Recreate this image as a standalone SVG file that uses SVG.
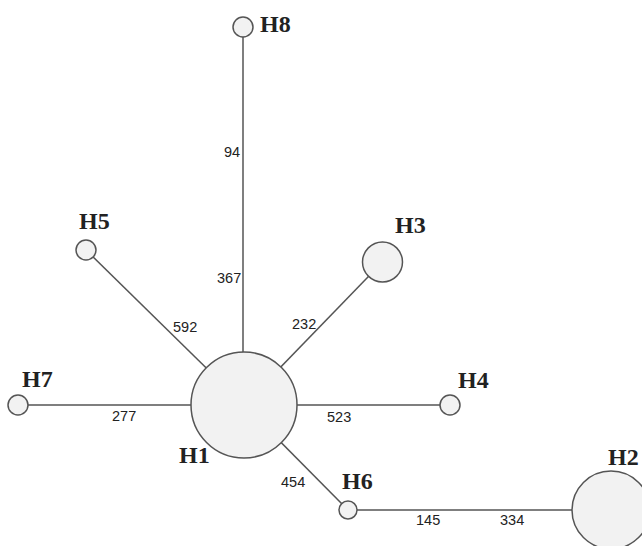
<svg xmlns="http://www.w3.org/2000/svg" width="642" height="546" viewBox="0 0 642 546">
<style>
.edge{stroke:#555;stroke-width:1.5;fill:none}
.node{fill:#f2f2f2;stroke:#555;stroke-width:1.5}
.lbl{font-family:"Liberation Serif","Times New Roman",serif;font-weight:bold;font-size:24px;fill:#222}
.w{font-family:"Liberation Sans",Arial,sans-serif;font-size:14.5px;fill:#222}
</style>
<rect width="642" height="546" fill="#fff"/>
<g id="connectors">
<line class="edge" x1="243" y1="27" x2="243" y2="405"/>
<line class="edge" x1="86" y1="250" x2="244" y2="405"/>
<line class="edge" x1="382.5" y1="262" x2="244" y2="405"/>
<line class="edge" x1="18" y1="405" x2="244" y2="405"/>
<line class="edge" x1="244" y1="405" x2="450" y2="405"/>
<line class="edge" x1="244" y1="405" x2="348" y2="510"/>
<line class="edge" x1="348" y1="510" x2="611" y2="510"/>
<text class="w" x="224" y="157">94</text>
<text class="w" x="217" y="283">367</text>
<text class="w" x="173" y="332">592</text>
<text class="w" x="292" y="329">232</text>
<text class="w" x="112" y="421">277</text>
<text class="w" x="327" y="422">523</text>
<text class="w" x="281" y="487">454</text>
<text class="w" x="416" y="525">145</text>
<text class="w" x="500" y="525">334</text>
</g>
<g id="H1"><circle class="node" cx="244" cy="405" r="53"/><text class="lbl" x="179" y="463">H1</text></g>
<g id="H2"><circle class="node" cx="611" cy="510" r="39"/><text class="lbl" x="608" y="465">H2</text></g>
<g id="H3"><circle class="node" cx="382.5" cy="262" r="20"/><text class="lbl" x="395" y="233">H3</text></g>
<g id="H4"><circle class="node" cx="450" cy="405" r="10"/><text class="lbl" x="458" y="388">H4</text></g>
<g id="H5"><circle class="node" cx="86" cy="250" r="10"/><text class="lbl" x="79" y="229">H5</text></g>
<g id="H6"><circle class="node" cx="348" cy="510" r="9"/><text class="lbl" x="342" y="489">H6</text></g>
<g id="H7"><circle class="node" cx="18" cy="405" r="10"/><text class="lbl" x="22" y="387">H7</text></g>
<g id="H8"><circle class="node" cx="243" cy="27" r="10"/><text class="lbl" x="260" y="32">H8</text></g>
</svg>
